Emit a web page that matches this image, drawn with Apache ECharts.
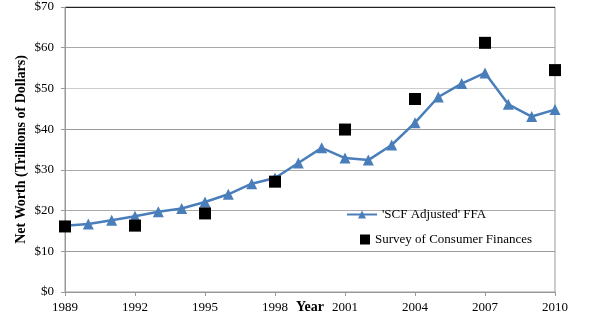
<!DOCTYPE html>
<html><head><meta charset="utf-8">
<script src="https://cdn.jsdelivr.net/npm/echarts@6/dist/echarts.min.js"></script>
<style>html,body{margin:0;padding:0;background:#fff}#c{width:600px;height:323px}</style>
</head><body><div id="c"></div>
<script>
var ffaYears = [1989,1990,1991,1992,1993,1994,1995,1996,1997,1998,1999,2000,2001,2002,2003,2004,2005,2006,2007,2008,2009,2010];
var ffaValues = [16.3,16.7,17.6,18.6,19.7,20.5,22.1,24.0,26.6,28.0,31.7,35.4,32.9,32.4,36.1,41.6,47.9,51.2,53.8,46.1,43.1,44.8];
var scfYears = [1989,1992,1995,1998,2001,2004,2007,2010];
var scfValues = [16.1,16.3,19.3,27.1,39.9,47.4,61.2,54.5];
var serif = '"Liberation Serif","DejaVu Serif",serif';
var chart = echarts.init(document.getElementById('c'));
chart.setOption({
  animation:false,
  grid:{left:65,right:45,top:7,bottom:31,outerBoundsMode:'none',containLabel:false,show:true,borderColor:'#999',borderWidth:1},
  xAxis:{type:'value',min:1989,max:2010,interval:3,
    name:'Year',nameLocation:'middle',nameGap:8,nameMoveOverlap:false,
    nameTextStyle:{fontFamily:serif,fontWeight:'bold',fontSize:14,color:'#000',verticalAlign:'top'},
    axisLine:{show:true,lineStyle:{color:'#999',type:'dotted'}},
    axisTick:{show:true,length:4,lineStyle:{color:'#999'}},
    axisLabel:{fontFamily:serif,fontSize:13,color:'#000',margin:9,formatter:function(v){return String(v);}},
    splitLine:{show:false}},
  yAxis:{type:'value',min:0,max:70,interval:10,
    name:'Net Worth (Trillions of Dollars)',nameLocation:'middle',nameGap:37,nameRotate:90,nameMoveOverlap:false,
    nameTextStyle:{fontFamily:serif,fontWeight:'bold',fontSize:14,color:'#000'},
    axisLine:{show:true,lineStyle:{color:'#999'}},
    axisTick:{show:true,length:4,lineStyle:{color:'#999'}},
    axisLabel:{fontFamily:serif,fontSize:13,color:'#000',margin:11,formatter:function(v){return '$'+v;}},
    splitLine:{show:true,lineStyle:{color:['#999','#999','#aaa','#aaa','#999','#ccc','#aaa','#222'],width:1}}},
  legend:[
    {orient:'vertical',left:341,top:203,itemWidth:30,itemHeight:10,
      textStyle:{fontFamily:serif,fontSize:13,color:'#000'},
      data:[{name:"'SCF Adjusted' FFA"}]},
    {orient:'vertical',left:355,top:228,itemWidth:10,itemHeight:10,
      textStyle:{fontFamily:serif,fontSize:13,color:'#000'},
      data:[{name:'Survey of Consumer Finances',icon:'rect'}]}
  ],
  series:[
    {name:"'SCF Adjusted' FFA",type:'line',data:ffaYears.map(function(y,i){return [y,ffaValues[i]];}),
      symbol:'triangle',symbolSize:11,lineStyle:{color:'#4a7ebb',width:2.5},itemStyle:{color:'#4a7ebb'},z:2},
    {name:'Survey of Consumer Finances',type:'scatter',data:scfYears.map(function(y,i){return [y,scfValues[i]];}),
      symbol:'rect',symbolSize:12,itemStyle:{color:'#000',opacity:1},z:3}
  ]
});
</script></body></html>
